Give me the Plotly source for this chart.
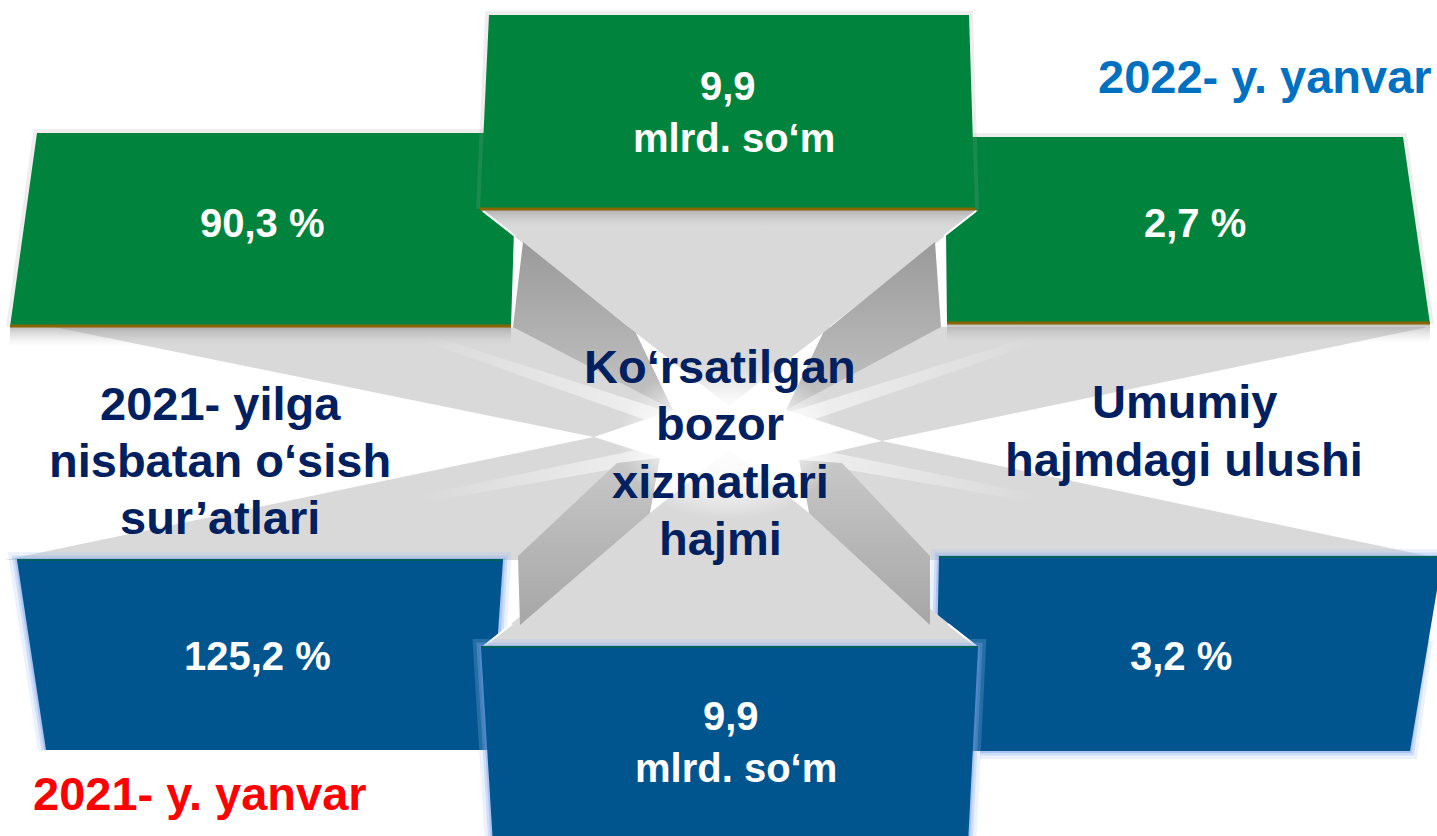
import numpy as np
import plotly.graph_objects as go

# ---------------- data (text content of the infographic) ----------------
period_labels = ["2022- y. yanvar", "2021- y. yanvar"]
left_label = ["2021- yilga", "nisbatan o‘sish", "sur’atlari"]
center_label = ["Ko‘rsatilgan", "bozor", "xizmatlari", "hajmi"]
right_label = ["Umumiy", "hajmdagi ulushi"]
values_2022 = ["90,3 %", "9,9", "2,7 %"]   # growth, volume, share
values_2021 = ["125,2 %", "9,9", "3,2 %"]
volume_unit = "mlrd. so‘m"

# ---------------- styling / geometry ----------------
W, H = 1437, 836
GREEN = "#00843D"
BLUE = "#00558F"
NAVY = "#002060"
LIGHT = "#D9D9D9"
FONT = "Liberation Sans, Arial, sans-serif"

fig = go.Figure()


def poly(pts, color, grad=None):
    xs = [p[0] for p in pts] + [pts[0][0]]
    ys = [p[1] for p in pts] + [pts[0][1]]
    kw = dict(x=xs, y=ys, mode="lines", fill="toself", fillcolor=color,
              line=dict(width=0, color="rgba(0,0,0,0)"), hoverinfo="skip",
              showlegend=False)
    if grad is not None:
        kw["fillgradient"] = grad
    fig.add_trace(go.Scatter(**kw))


def seg(pts, color, width):
    fig.add_trace(go.Scatter(x=[p[0] for p in pts], y=[p[1] for p in pts],
                             mode="lines", line=dict(color=color, width=width),
                             hoverinfo="skip", showlegend=False))


def glow(pts):
    seg(pts, "rgba(165,195,245,0.22)", 16)
    seg(pts, "rgba(140,175,240,0.30)", 9)
    seg(pts, "rgba(110,150,235,0.35)", 4)


def vgrad(c0, c1, y0, y1):
    return dict(type="vertical", start=y0, stop=y1,
                colorscale=[[0, c0], [1, c1]])


def hgrad(c0, c1, x0, x1):
    return dict(type="horizontal", start=x0, stop=x1,
                colorscale=[[0, c0], [1, c1]])


# --- light grey band behind everything (the "rays") ---
poly([(0, 327), (W, 327), (W, 560), (0, 560)], LIGHT)
# white wedges on the left and right where the side captions sit
poly([(0, 316), (594, 437), (0, 561)], "white")
poly([(W, 325), (882, 441), (W, 558)], "white")

# soft light streaks converging on the centre
cx, cy = 728, 440
for (x0, y0) in [(420, 336), (420, 499)]:
    poly([(x0, y0 - 4), (cx, cy - 9), (cx, cy + 9), (x0, y0 + 4)],
         "white", hgrad("rgba(255,255,255,0)", "rgba(255,255,255,0.8)", x0, cx))
for (x0, y0) in [(1040, 338), (1040, 499)]:
    poly([(x0, y0 - 4), (cx, cy - 9), (cx, cy + 9), (x0, y0 + 4)],
         "white", hgrad("rgba(255,255,255,0.8)", "rgba(255,255,255,0)", cx, x0))

# shadows under the upper side boxes
poly([(10, 327), (511, 327), (511, 346), (10, 346)], "rgba(0,0,0,0)",
     vgrad("rgba(140,140,140,0.55)", "rgba(200,200,200,0)", 327, 346))
poly([(947, 324), (1430, 324), (1430, 343), (947, 343)], "rgba(0,0,0,0)",
     vgrad("rgba(140,140,140,0.55)", "rgba(200,200,200,0)", 324, 343))
# soft shadow at the outer edges of the green boxes
seg([(10, 327), (37, 133), (517, 133)], "rgba(160,160,160,0.18)", 8)
seg([(1430, 324), (1403, 137), (945, 137)], "rgba(160,160,160,0.18)", 8)

# --- upper side boxes (green) ---
poly([(37, 133), (517, 133), (511, 327), (10, 327)], GREEN)
seg([(10, 326), (511, 326)], "#8A6400", 3)
poly([(945, 137), (1403, 137), (1430, 324), (947, 324)], GREEN)
seg([(947, 323), (1430, 323)], "#8A6400", 3)

# --- lower side boxes (blue) with glow ---
glow([(46, 750), (17, 560), (503, 560), (498, 650)])
glow([(935, 690), (939, 557), (W + 5, 557)])
glow([(1425, 640), (1410, 751), (980, 751)])
poly([(17, 560), (503, 560), (490, 750), (46, 750)], BLUE)
seg([(17, 560), (503, 560)], "#00605A", 2)
poly([(939, 557), (W + 5, 557), (W + 5, 560), (1410, 751), (935, 751)], BLUE)
seg([(939, 557), (W, 557)], "#00605A", 2)

# --- hourglass: light faces ---
poly([(481, 210), (978, 210), (729, 406)], LIGHT)
poly([(482, 647), (978, 647), (730, 449)], LIGHT)
# shadow below top centre box
poly([(481, 210), (978, 210), (955, 229), (504, 229)], "rgba(0,0,0,0)",
     vgrad("rgba(150,150,150,0.6)", "rgba(217,217,217,0)", 210, 229))
# highlight edges at the box corners
seg([(483, 211), (515, 236)], "white", 2)
seg([(976, 211), (944, 236)], "white", 2)
seg([(484, 646), (512, 624)], "white", 2)
seg([(976, 646), (948, 624)], "white", 2)

# --- hourglass: dark side faces ---
poly([(523, 242), (636, 333), (673, 410), (513, 327)], "grey",
     vgrad("#9A9A9A", "#C4C4C4", 242, 410))
poly([(935, 242), (823, 333), (786, 410), (941, 327)], "grey",
     vgrad("#9A9A9A", "#C4C4C4", 242, 410))
poly([(518, 556), (617, 463), (660, 458), (650, 513), (520, 625)], "grey",
     vgrad("#C8C8C8", "#A6A6A6", 458, 625))
poly([(930, 556), (842, 463), (799, 460), (809, 513), (930, 625)], "grey",
     vgrad("#C8C8C8", "#A6A6A6", 458, 625))

# --- white star burst in the middle ---
poly([(636, 333), (729, 406), (823, 333), (786, 410), (882, 441), (799, 460),
      (809, 513), (730, 449), (650, 513), (660, 458), (594, 437), (673, 410)],
     "white")
t = np.linspace(0, 2 * np.pi, 80)
poly(list(zip(cx + 110 * np.cos(t), cy + 80 * np.sin(t))), "rgba(0,0,0,0)",
     dict(type="radial", colorscale=[[0, "rgba(255,255,255,1)"],
                                     [0.5, "rgba(255,255,255,0.85)"],
                                     [1, "rgba(255,255,255,0)"]]))

# --- centre boxes ---
seg([(480, 209), (489, 15), (969, 15), (975, 209)], "rgba(160,160,160,0.18)", 8)
poly([(489, 15), (969, 15), (975, 209), (480, 209)], GREEN)
seg([(480, 209), (975, 209)], "#8A6400", 3)
bc = [(481, 647), (978, 647), (968, 845), (493, 845)]
glow([(493, 845), (481, 647), (978, 647), (968, 845)])
poly(bc, BLUE)
seg([(481, 647), (978, 647)], "#00605A", 2)

# ---------------- text ----------------
ann = []


def text(x, y, s, size, color):
    ann.append(dict(x=x, y=y, xref="x", yref="y", text="<b>%s</b>" % s,
                    showarrow=False, xanchor="center", yanchor="middle",
                    font=dict(family=FONT, size=size, color=color)))


VAL = 40
LBL = 47
# 2022 values (green)
text(262, 223, values_2022[0], VAL, "white")
text(728, 86, values_2022[1], VAL, "white")
text(734, 138, volume_unit, VAL, "white")
text(1195, 223, values_2022[2], VAL, "white")
# 2021 values (blue)
text(257, 656, values_2021[0], VAL, "white")
text(731, 716, values_2021[1], VAL, "white")
text(736, 768, volume_unit, VAL, "white")
text(1181, 656, values_2021[2], VAL, "white")
# captions
for s, yb in zip(left_label, [420, 477, 534]):
    text(220, yb - 16.5, s, LBL, NAVY)
for s, yb in zip(center_label, [383, 440, 498, 555]):
    text(720, yb - 16.5, s, LBL, NAVY)
for s, yb in zip(right_label, [418, 476]):
    text(1184, yb - 16.5, s, LBL, NAVY)
text(1265, 93 - 16.5, period_labels[0], LBL, "#0070C0")
text(200, 810 - 16.5, period_labels[1], LBL, "#FF0000")

fig.update_layout(
    width=W, height=H, autosize=False,
    margin=dict(l=0, r=0, t=0, b=0, pad=0),
    paper_bgcolor="white", plot_bgcolor="white",
    xaxis=dict(range=[0, W], visible=False, fixedrange=True),
    yaxis=dict(range=[H, 0], visible=False, fixedrange=True),
    annotations=ann, showlegend=False,
)

fig.write_html("out.html", config={"displayModeBar": False, "staticPlot": True},
               post_script="document.body.style.margin='0';")
